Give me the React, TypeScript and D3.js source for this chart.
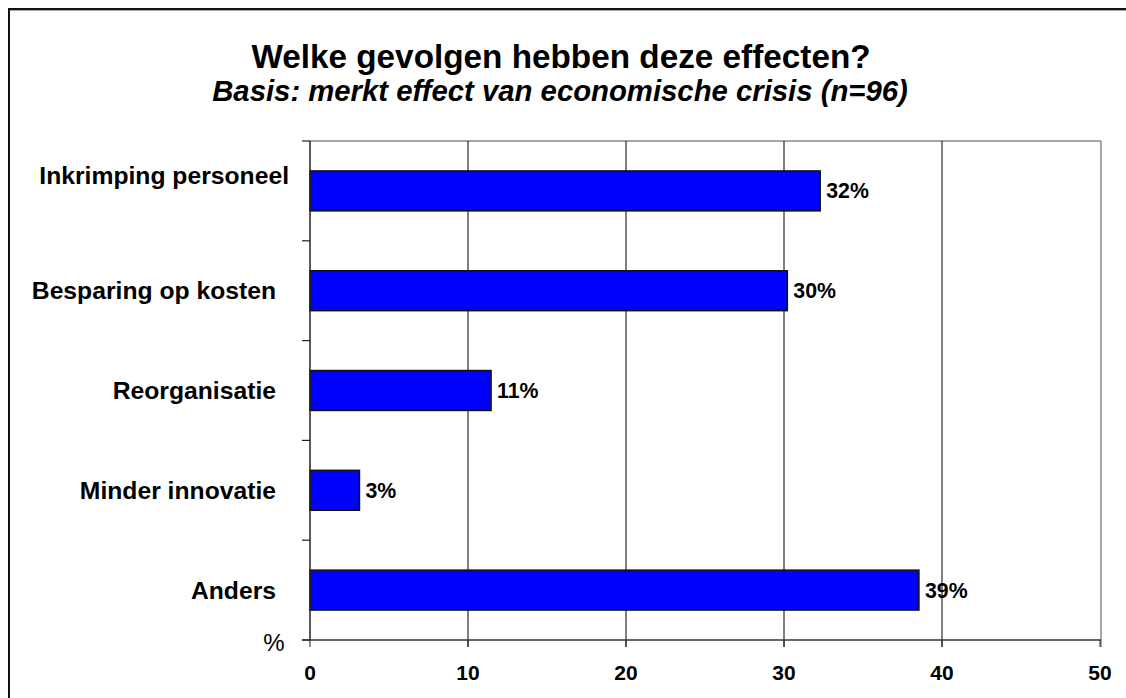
import React from "react";
import * as d3 from "d3";

// Survey results: consequences of the economic crisis (n=96)
const categories: string[] = [
  "Inkrimping personeel",
  "Besparing op kosten",
  "Reorganisatie",
  "Minder innovatie",
  "Anders",
];
const percentages: number[] = [32.29, 30.21, 11.46, 3.13, 38.54];
const xTicks: number[] = [0, 10, 20, 30, 40, 50];

const title = "Welke gevolgen hebben deze effecten?";
const subtitle = "Basis: merkt effect van economische crisis (n=96)";

const W = 1126;
const H = 698;
const FONT = "'Liberation Sans', Arial, Helvetica, sans-serif";

export default function App() {
  const plot = { left: 310, right: 1101, top: 141, bottom: 640 };
  const x = d3.scaleLinear().domain([0, 50]).range([plot.left, plot.left + 790]);
  const y = d3
    .scaleBand<string>()
    .domain(categories)
    .range([plot.top, plot.bottom])
    .paddingInner(0.6)
    .paddingOuter(0.3);
  const bandStart = (i: number) => plot.top + (i * (plot.bottom - plot.top)) / categories.length;
  const fmt = d3.format(".0f");

  return (
    <svg
      width={W}
      height={H}
      style={{ position: "absolute", left: 0, top: 0, background: "#fff" }}
      fontFamily={FONT}
    >
      {/* outer frame: only the top and left edges fall inside the view */}
      <line x1={9} x2={W} y1={10.5} y2={10.5} stroke="#aaa" strokeWidth={1} />
      <line x1={8} x2={W} y1={9} y2={9} stroke="#111" strokeWidth={2} />
      <line x1={9} x2={9} y1={8} y2={H} stroke="#111" strokeWidth={2} />

      {/* titles */}
      <text x={561} y={68} textAnchor="middle" fontSize={33.3} fontWeight="bold" fill="#000">
        {title}
      </text>
      <text
        x={560}
        y={101}
        textAnchor="middle"
        fontSize={29.3}
        fontWeight="bold"
        fontStyle="italic"
        fill="#000"
      >
        {subtitle}
      </text>

      {/* plot frame (top & right) */}
      <line x1={plot.left} x2={plot.right} y1={plot.top} y2={plot.top} stroke="#888" strokeWidth={1.5} />
      <line x1={plot.right} x2={plot.right} y1={plot.top} y2={plot.bottom + 7} stroke="#888" strokeWidth={1.5} />

      {/* vertical gridlines */}
      {xTicks.slice(1, -1).map((t) => (
        <line key={"g" + t} x1={x(t)} x2={x(t)} y1={plot.top} y2={plot.bottom + 7} stroke="#000" strokeWidth={1} />
      ))}

      {/* bars */}
      {categories.map((c, i) => (
        <rect
          key={c}
          x={x(0)}
          y={y(c)!}
          width={x(percentages[i]) - x(0)}
          height={y.bandwidth()}
          fill="#0000FF"
          stroke="#111"
          strokeWidth={1.5}
        />
      ))}

      {/* value labels */}
      {categories.map((c, i) => (
        <text
          key={"v" + c}
          x={x(percentages[i]) + 6}
          y={y(c)! + y.bandwidth() / 2 + 7.5}
          fontSize={21.3}
          fontWeight="bold"
          fill="#000"
        >
          {fmt(percentages[i])}%
        </text>
      ))}

      {/* category axis */}
      <line x1={plot.left} x2={plot.left} y1={plot.top} y2={plot.bottom} stroke="#222" strokeWidth={1.5} />
      {d3.range(categories.length + 1).map((i) => (
        <line
          key={"t" + i}
          x1={plot.left - 8}
          x2={plot.left}
          y1={bandStart(i)}
          y2={bandStart(i)}
          stroke="#222"
          strokeWidth={1.2}
        />
      ))}
      {categories.map((c, i) => {
        const cy = y(c)! + y.bandwidth() / 2;
        const first = i === 0;
        return (
          <text
            key={"c" + c}
            x={first ? 289 : 276}
            y={cy + 8.5 - (first ? 15 : 0)}
            textAnchor="end"
            fontSize={24.7}
            fontWeight="bold"
            fill="#000"
          >
            {c}
          </text>
        );
      })}

      {/* value axis */}
      <line x1={plot.left - 8} x2={plot.right} y1={plot.bottom} y2={plot.bottom} stroke="#333" strokeWidth={1.5} />
      {xTicks.map((t) => (
        <line key={"xt" + t} x1={x(t)} x2={x(t)} y1={plot.bottom} y2={plot.bottom + 7} stroke="#222" strokeWidth={1} />
      ))}
      {xTicks.map((t) => (
        <text key={"xl" + t} x={x(t)} y={680} textAnchor="middle" fontSize={21} fontWeight="bold" fill="#000">
          {t}
        </text>
      ))}
      <text x={274} y={651} textAnchor="middle" fontSize={24} fill="#000">
        %
      </text>
    </svg>
  );
}
